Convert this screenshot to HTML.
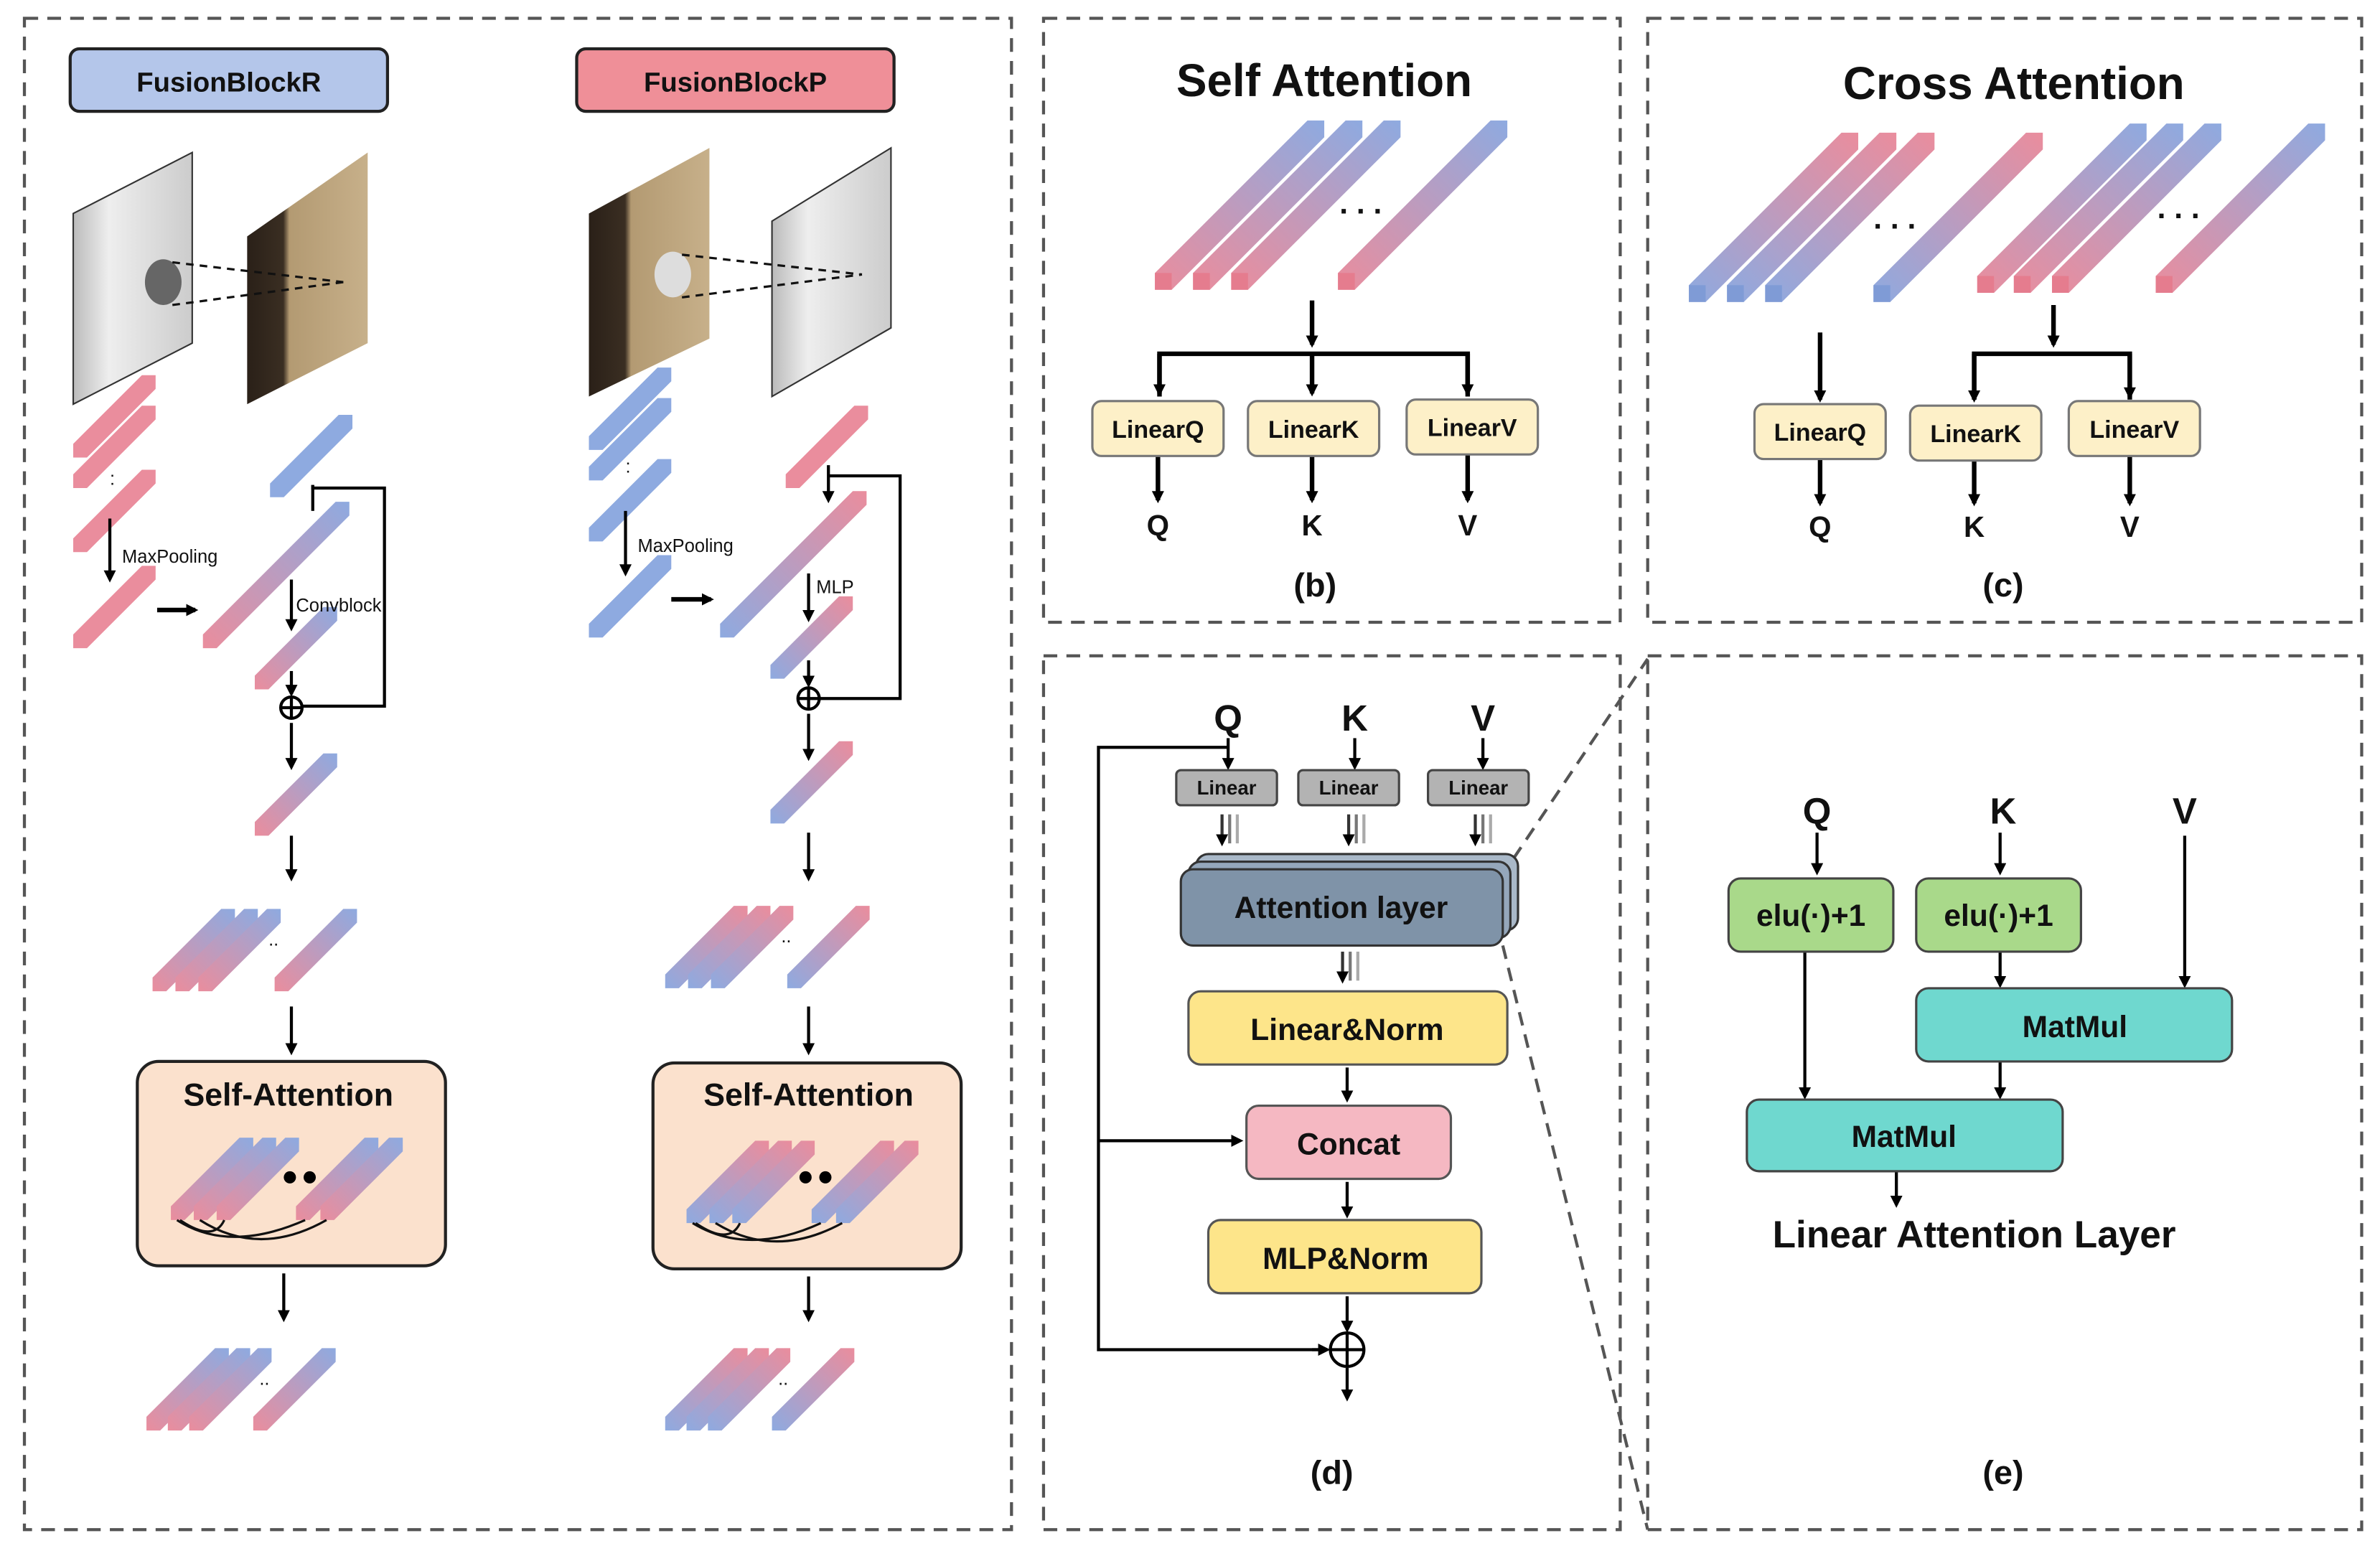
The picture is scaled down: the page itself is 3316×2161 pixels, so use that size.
<!DOCTYPE html>
<html><head><meta charset="utf-8"><style>
html,body{margin:0;padding:0;background:#fff}
svg{display:block}
text{font-family:"Liberation Sans",Arial,sans-serif;fill:#111}
.b{font-weight:bold}
</style></head><body>
<svg width="3316" height="2161" viewBox="0 0 1560 1017" preserveAspectRatio="none" xmlns="http://www.w3.org/2000/svg">
<defs>
<linearGradient id="gPB" x1="0" y1="1" x2="1" y2="0"><stop offset="0" stop-color="#ea8d9d"/><stop offset="1" stop-color="#8eaae0"/></linearGradient>
<linearGradient id="gBP" x1="0" y1="1" x2="1" y2="0"><stop offset="0" stop-color="#8eaae0"/><stop offset="1" stop-color="#ea8d9d"/></linearGradient>
<linearGradient id="gray" x1="0" y1="0" x2="1" y2="0"><stop offset="0" stop-color="#bbb"/><stop offset="0.3" stop-color="#eee"/><stop offset="1" stop-color="#ccc"/></linearGradient>
<linearGradient id="brown" x1="0" y1="0" x2="1" y2="0"><stop offset="0" stop-color="#2a2018"/><stop offset="0.3" stop-color="#3a2e22"/><stop offset="0.35" stop-color="#b39a72"/><stop offset="1" stop-color="#c7b08a"/></linearGradient>
<marker id="ar" markerWidth="8" markerHeight="8" refX="6" refY="4" orient="auto" markerUnits="userSpaceOnUse"><path d="M0,0 L8,4 L0,8 z" fill="#000"/></marker>
<symbol id="BPB" overflow="visible"><polygon points="0,0 11,0 111,-100 111,-111 100,-111 0,-11" fill="url(#gPB)"/><rect x="0" y="-11" width="11" height="11" fill="#e57c8e"/></symbol>
<symbol id="BBP" overflow="visible"><polygon points="0,0 11,0 111,-100 111,-111 100,-111 0,-11" fill="url(#gBP)"/><rect x="0" y="-11" width="11" height="11" fill="#7f9bd6"/></symbol>
<symbol id="SP" overflow="visible"><polygon points="0,0 9,0 54,-45 54,-54 45,-54 0,-9" fill="#ea8d9d"/></symbol>
<symbol id="SB" overflow="visible"><polygon points="0,0 9,0 54,-45 54,-54 45,-54 0,-9" fill="#8eaae0"/></symbol>
<symbol id="SPB" overflow="visible"><polygon points="0,0 9,0 54,-45 54,-54 45,-54 0,-9" fill="url(#gPB)"/></symbol>
<symbol id="SBP" overflow="visible"><polygon points="0,0 9,0 54,-45 54,-54 45,-54 0,-9" fill="url(#gBP)"/></symbol>
</defs>

<g fill="none" stroke="#555" stroke-width="2" stroke-dasharray="9,6">
<rect x="16" y="12" width="647" height="991"/>
<rect x="684" y="12" width="378" height="396"/>
<rect x="1080" y="12" width="468" height="396"/>
<rect x="684" y="430" width="378" height="573"/>
<rect x="1080" y="430" width="468" height="573"/>
<line x1="992" y1="563" x2="1080" y2="432"/>
<line x1="985" y1="620" x2="1080" y2="1003"/>
</g>

<rect x="46" y="32" width="208" height="41" rx="6" fill="#b4c6ea" stroke="#222" stroke-width="2"/>
<text x="150" y="60" text-anchor="middle" font-size="18" class="b">FusionBlockR</text>
<rect x="378" y="32" width="208" height="41" rx="6" fill="#ef8f98" stroke="#222" stroke-width="2"/>
<text x="482" y="60" text-anchor="middle" font-size="18" class="b">FusionBlockP</text>

<polygon points="48,140 126,100 126,225 48,265" fill="url(#gray)" stroke="#333"/>
<ellipse cx="107" cy="185" rx="12" ry="15" fill="#666"/>
<polygon points="162,155 241,100 241,225 162,265" fill="url(#brown)"/>
<g stroke="#111" stroke-dasharray="5,4" stroke-width="1.5"><line x1="113" y1="172" x2="225" y2="185"/><line x1="113" y1="200" x2="225" y2="185"/></g>
<polygon points="386,140 465,97 465,222 386,260" fill="url(#brown)"/>
<ellipse cx="441" cy="180" rx="12" ry="15" fill="#ddd"/>
<polygon points="506,145 584,97 584,215 506,260" fill="url(#gray)" stroke="#333"/>
<g stroke="#111" stroke-dasharray="5,4" stroke-width="1.5"><line x1="447" y1="167" x2="565" y2="180"/><line x1="447" y1="195" x2="565" y2="180"/></g>

<use href="#SP" x="48" y="300"/><use href="#SP" x="48" y="320"/>
<text x="72" y="318" font-size="12">:</text>
<use href="#SP" x="48" y="362"/>
<use href="#SP" x="48" y="425"/>
<use href="#SB" x="177" y="326"/>
<polygon points="133,425 142,425 229,338 229,329 220,329 133,416" fill="url(#gPB)"/>
<use href="#SPB" x="167" y="452"/>
<use href="#SPB" x="167" y="548"/>
<g stroke="#000" stroke-width="2" fill="none">
<line x1="72" y1="340" x2="72" y2="380" marker-end="url(#ar)"/>
<line x1="103" y1="400" x2="128" y2="400" stroke-width="3" marker-end="url(#ar)"/>
<polyline points="205,318 205,320 252,320 252,463 198,463"/>
<line x1="205" y1="318" x2="205" y2="335"/>
<line x1="191" y1="380" x2="191" y2="412" marker-end="url(#ar)"/>
<line x1="191" y1="440" x2="191" y2="455" marker-end="url(#ar)"/>
<circle cx="191" cy="464" r="7"/><line x1="184" y1="464" x2="198" y2="464"/><line x1="191" y1="457" x2="191" y2="471"/>
<line x1="191" y1="474" x2="191" y2="503" marker-end="url(#ar)"/>
<line x1="191" y1="548" x2="191" y2="576" marker-end="url(#ar)"/>
<line x1="191" y1="660" x2="191" y2="690" marker-end="url(#ar)"/>
<line x1="186" y1="835" x2="186" y2="865" marker-end="url(#ar)"/>
</g>
<text x="80" y="369" font-size="12">MaxPooling</text>
<text x="194" y="401" font-size="12">Convblock</text>
<use href="#SPB" x="100" y="650"/><use href="#SPB" x="115" y="650"/><use href="#SPB" x="130" y="650"/><use href="#SPB" x="180" y="650"/>
<text x="176" y="620" font-size="12">..</text>
<rect x="90" y="696" width="202" height="134" rx="14" fill="#fbe1cd" stroke="#222" stroke-width="2"/>
<text x="189" y="725" text-anchor="middle" font-size="21" class="b">Self-Attention</text>
<use href="#SPB" x="112" y="800"/><use href="#SPB" x="127" y="800"/><use href="#SPB" x="142" y="800"/><use href="#SPB" x="194" y="800"/><use href="#SPB" x="210" y="800"/>
<circle cx="190" cy="772" r="4" fill="#000"/><circle cx="203" cy="772" r="4" fill="#000"/>
<g fill="none" stroke="#111" stroke-width="1.5"><path d="M116,800 Q150,822 200,800"/><path d="M131,800 Q170,825 214,800"/><path d="M118,800 Q140,815 147,800"/></g>
<use href="#SPB" x="96" y="938"/><use href="#SPB" x="110" y="938"/><use href="#SPB" x="124" y="938"/><use href="#SPB" x="166" y="938"/>
<text x="170" y="908" font-size="12">..</text>

<use href="#SB" x="386" y="295"/><use href="#SB" x="386" y="315"/>
<text x="410" y="310" font-size="12">:</text>
<use href="#SB" x="386" y="355"/>
<use href="#SB" x="386" y="418"/>
<use href="#SP" x="515" y="320"/>
<polygon points="472,418 481,418 568,331 568,322 559,322 472,409" fill="url(#gBP)"/>
<use href="#SBP" x="505" y="445"/>
<use href="#SBP" x="505" y="540"/>
<g stroke="#000" stroke-width="2" fill="none">
<line x1="410" y1="335" x2="410" y2="376" marker-end="url(#ar)"/>
<line x1="440" y1="393" x2="466" y2="393" stroke-width="3" marker-end="url(#ar)"/>
<polyline points="543,312 590,312 590,458 537,458"/>
<line x1="543" y1="305" x2="543" y2="328" marker-end="url(#ar)"/>
<line x1="530" y1="376" x2="530" y2="406" marker-end="url(#ar)"/>
<line x1="530" y1="433" x2="530" y2="449" marker-end="url(#ar)"/>
<circle cx="530" cy="458" r="7"/><line x1="523" y1="458" x2="537" y2="458"/><line x1="530" y1="451" x2="530" y2="465"/>
<line x1="530" y1="468" x2="530" y2="497" marker-end="url(#ar)"/>
<line x1="530" y1="546" x2="530" y2="576" marker-end="url(#ar)"/>
<line x1="530" y1="660" x2="530" y2="690" marker-end="url(#ar)"/>
<line x1="530" y1="837" x2="530" y2="865" marker-end="url(#ar)"/>
</g>
<text x="418" y="362" font-size="12">MaxPooling</text>
<text x="535" y="389" font-size="12">MLP</text>
<use href="#SBP" x="436" y="648"/><use href="#SBP" x="451" y="648"/><use href="#SBP" x="466" y="648"/><use href="#SBP" x="516" y="648"/>
<text x="512" y="618" font-size="12">..</text>
<rect x="428" y="697" width="202" height="135" rx="14" fill="#fbe1cd" stroke="#222" stroke-width="2"/>
<text x="530" y="725" text-anchor="middle" font-size="21" class="b">Self-Attention</text>
<use href="#SBP" x="450" y="802"/><use href="#SBP" x="465" y="802"/><use href="#SBP" x="480" y="802"/><use href="#SBP" x="532" y="802"/><use href="#SBP" x="548" y="802"/>
<circle cx="528" cy="772" r="4" fill="#000"/><circle cx="541" cy="772" r="4" fill="#000"/>
<g fill="none" stroke="#111" stroke-width="1.5"><path d="M454,802 Q490,824 538,802"/><path d="M469,802 Q508,826 552,802"/><path d="M456,802 Q478,817 485,802"/></g>
<use href="#SBP" x="436" y="938"/><use href="#SBP" x="450" y="938"/><use href="#SBP" x="464" y="938"/><use href="#SBP" x="506" y="938"/>
<text x="510" y="908" font-size="12">..</text>

<text x="868" y="63" text-anchor="middle" font-size="30" class="b">Self Attention</text>
<use href="#BPB" x="757" y="190"/><use href="#BPB" x="782" y="190"/><use href="#BPB" x="807" y="190"/><use href="#BPB" x="877" y="190"/>
<text x="878" y="140" font-size="20" class="b">. . .</text>
<g stroke="#000" stroke-width="3" fill="none">
<line x1="860" y1="197" x2="860" y2="226" marker-end="url(#ar)"/>
<polyline points="760,260 760,232 962,232 962,260"/>
<line x1="760" y1="232" x2="760" y2="258" marker-end="url(#ar)"/>
<line x1="860" y1="232" x2="860" y2="258" marker-end="url(#ar)"/>
<line x1="962" y1="232" x2="962" y2="258" marker-end="url(#ar)"/>
<line x1="759" y1="299" x2="759" y2="328" marker-end="url(#ar)"/>
<line x1="860" y1="299" x2="860" y2="328" marker-end="url(#ar)"/>
<line x1="962" y1="298" x2="962" y2="328" marker-end="url(#ar)"/>
</g>
<g fill="#fdf0c8" stroke="#777" stroke-width="1.5">
<rect x="716" y="263" width="86" height="36" rx="6"/><rect x="818" y="263" width="86" height="36" rx="6"/><rect x="922" y="262" width="86" height="36" rx="6"/>
</g>
<g font-size="16" text-anchor="middle"><text x="759" y="287" class="b">LinearQ</text><text x="861" y="287" class="b">LinearK</text><text x="965" y="286" class="b">LinearV</text></g>
<g font-size="19" text-anchor="middle"><text x="759" y="351" class="b">Q</text><text x="860" y="351" class="b">K</text><text x="962" y="351" class="b">V</text>
<text x="862" y="391" font-size="22" class="b">(b)</text></g>

<text x="1320" y="65" text-anchor="middle" font-size="30" class="b">Cross Attention</text>
<use href="#BBP" x="1107" y="198"/><use href="#BBP" x="1132" y="198"/><use href="#BBP" x="1157" y="198"/><use href="#BBP" x="1228" y="198"/>
<text x="1228" y="150" font-size="20" class="b">. . .</text>
<use href="#BPB" x="1296" y="192"/><use href="#BPB" x="1320" y="192"/><use href="#BPB" x="1345" y="192"/><use href="#BPB" x="1413" y="192"/>
<text x="1414" y="143" font-size="20" class="b">. . .</text>
<g stroke="#000" stroke-width="3" fill="none">
<line x1="1193" y1="218" x2="1193" y2="262" marker-end="url(#ar)"/>
<line x1="1346" y1="200" x2="1346" y2="226" marker-end="url(#ar)"/>
<polyline points="1294,262 1294,232 1396,232 1396,262"/>
<line x1="1294" y1="232" x2="1294" y2="262" marker-end="url(#ar)"/>
<line x1="1396" y1="232" x2="1396" y2="260" marker-end="url(#ar)"/>
<line x1="1193" y1="301" x2="1193" y2="330" marker-end="url(#ar)"/>
<line x1="1294" y1="302" x2="1294" y2="330" marker-end="url(#ar)"/>
<line x1="1396" y1="299" x2="1396" y2="330" marker-end="url(#ar)"/>
</g>
<g fill="#fdf0c8" stroke="#777" stroke-width="1.5">
<rect x="1150" y="265" width="86" height="36" rx="6"/><rect x="1252" y="266" width="86" height="36" rx="6"/><rect x="1356" y="263" width="86" height="36" rx="6"/>
</g>
<g font-size="16" text-anchor="middle"><text x="1193" y="289" class="b">LinearQ</text><text x="1295" y="290" class="b">LinearK</text><text x="1399" y="287" class="b">LinearV</text></g>
<g font-size="19" text-anchor="middle"><text x="1193" y="352" class="b">Q</text><text x="1294" y="352" class="b">K</text><text x="1396" y="352" class="b">V</text>
<text x="1313" y="391" font-size="22" class="b">(c)</text></g>

<g font-size="24" text-anchor="middle"><text x="805" y="479" class="b">Q</text><text x="888" y="479" class="b">K</text><text x="972" y="479" class="b">V</text></g>
<g stroke="#000" stroke-width="2" fill="none">
<line x1="805" y1="484" x2="805" y2="503" marker-end="url(#ar)"/>
<line x1="888" y1="484" x2="888" y2="503" marker-end="url(#ar)"/>
<line x1="972" y1="484" x2="972" y2="503" marker-end="url(#ar)"/>
<polyline points="805,490 720,490 720,885 870,885" />
<line x1="860" y1="885" x2="870" y2="885" marker-end="url(#ar)"/>
<line x1="720" y1="748" x2="813" y2="748" marker-end="url(#ar)"/>
<line x1="883" y1="700" x2="883" y2="721" marker-end="url(#ar)"/>
<line x1="883" y1="775" x2="883" y2="797" marker-end="url(#ar)"/>
<line x1="883" y1="850" x2="883" y2="872" marker-end="url(#ar)"/>
<line x1="883" y1="897" x2="883" y2="917" marker-end="url(#ar)"/>
<circle cx="883" cy="885" r="11"/><line x1="872" y1="885" x2="894" y2="885"/><line x1="883" y1="874" x2="883" y2="896"/>
</g>
<g stroke="#333" stroke-width="2">
<line x1="801" y1="534" x2="801" y2="553" marker-end="url(#ar)"/><line x1="806" y1="534" x2="806" y2="553" stroke="#777"/><line x1="811" y1="534" x2="811" y2="553" stroke="#aaa"/>
<line x1="884" y1="534" x2="884" y2="553" marker-end="url(#ar)"/><line x1="889" y1="534" x2="889" y2="553" stroke="#777"/><line x1="894" y1="534" x2="894" y2="553" stroke="#aaa"/>
<line x1="967" y1="534" x2="967" y2="553" marker-end="url(#ar)"/><line x1="972" y1="534" x2="972" y2="553" stroke="#777"/><line x1="977" y1="534" x2="977" y2="553" stroke="#aaa"/>
<line x1="880" y1="624" x2="880" y2="643" marker-end="url(#ar)"/><line x1="885" y1="624" x2="885" y2="643" stroke="#777"/><line x1="890" y1="624" x2="890" y2="643" stroke="#aaa"/>
</g>
<g fill="#b3b3b3" stroke="#444" stroke-width="1.5">
<rect x="771" y="505" width="66" height="23" rx="3"/><rect x="851" y="505" width="66" height="23" rx="3"/><rect x="936" y="505" width="66" height="23" rx="3"/>
</g>
<g font-size="13" text-anchor="middle"><text x="804" y="521" class="b">Linear</text><text x="884" y="521" class="b">Linear</text><text x="969" y="521" class="b">Linear</text></g>
<g stroke="#333" stroke-width="1.5">
<rect x="784" y="560" width="211" height="50" rx="8" fill="#a9b8c8"/>
<rect x="779" y="565" width="211" height="50" rx="8" fill="#95a7bb"/>
<rect x="774" y="570" width="211" height="50" rx="8" fill="#7f93a8"/>
</g>
<text x="879" y="602" text-anchor="middle" font-size="20" class="b">Attention layer</text>
<rect x="779" y="650" width="209" height="48" rx="8" fill="#fde58a" stroke="#555" stroke-width="1.5"/>
<text x="883" y="682" text-anchor="middle" font-size="20" class="b">Linear&amp;Norm</text>
<rect x="817" y="725" width="134" height="48" rx="8" fill="#f5b8c2" stroke="#555" stroke-width="1.5"/>
<text x="884" y="757" text-anchor="middle" font-size="20" class="b">Concat</text>
<rect x="792" y="800" width="179" height="48" rx="8" fill="#fde58a" stroke="#555" stroke-width="1.5"/>
<text x="882" y="832" text-anchor="middle" font-size="20" class="b">MLP&amp;Norm</text>
<text x="873" y="973" text-anchor="middle" font-size="22" class="b">(d)</text>

<g font-size="24" text-anchor="middle"><text x="1191" y="540" class="b">Q</text><text x="1313" y="540" class="b">K</text><text x="1432" y="540" class="b">V</text></g>
<g stroke="#000" stroke-width="2" fill="none">
<line x1="1191" y1="546" x2="1191" y2="572" marker-end="url(#ar)"/>
<line x1="1311" y1="546" x2="1311" y2="572" marker-end="url(#ar)"/>
<line x1="1432" y1="548" x2="1432" y2="646" marker-end="url(#ar)"/>
<line x1="1311" y1="624" x2="1311" y2="646" marker-end="url(#ar)"/>
<line x1="1183" y1="624" x2="1183" y2="719" marker-end="url(#ar)"/>
<line x1="1311" y1="696" x2="1311" y2="719" marker-end="url(#ar)"/>
<line x1="1243" y1="768" x2="1243" y2="790" marker-end="url(#ar)"/>
</g>
<g stroke="#444" stroke-width="1.5">
<rect x="1133" y="576" width="108" height="48" rx="8" fill="#a9d98a"/>
<rect x="1256" y="576" width="108" height="48" rx="8" fill="#a9d98a"/>
<rect x="1256" y="648" width="207" height="48" rx="8" fill="#6fd8cf"/>
<rect x="1145" y="721" width="207" height="47" rx="8" fill="#6fd8cf"/>
</g>
<g font-size="20" text-anchor="middle">
<text x="1187" y="607" class="b">elu(·)+1</text><text x="1310" y="607" class="b">elu(·)+1</text>
<text x="1360" y="680" class="b">MatMul</text><text x="1248" y="752" class="b">MatMul</text>
<text x="1294" y="818" font-size="25" class="b">Linear Attention Layer</text>
<text x="1313" y="973" font-size="22" class="b">(e)</text>
</g>
</svg>
</body></html>
